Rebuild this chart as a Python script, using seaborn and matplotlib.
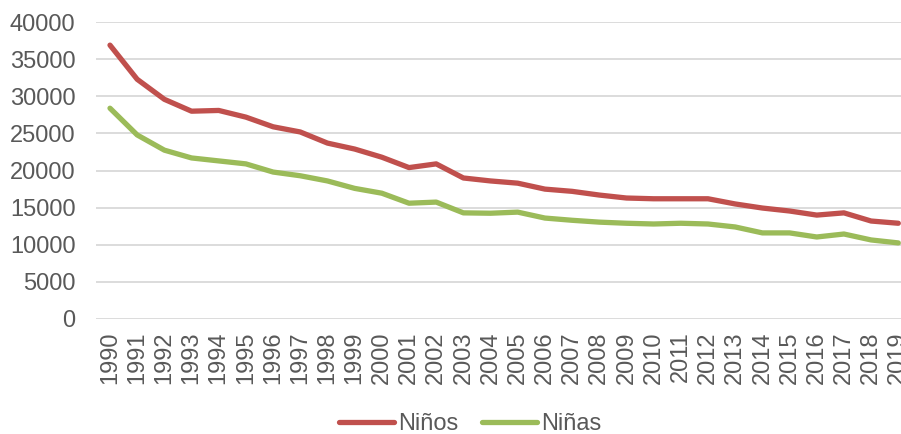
import matplotlib
matplotlib.use("Agg")
import matplotlib.pyplot as plt
import pandas as pd
import seaborn as sns

years = list(range(1990, 2020))
ninos = [36900, 32300, 29600, 28000, 28100, 27200, 25900, 25200, 23700, 22900,
         21800, 20400, 20900, 19000, 18600, 18300, 17500, 17200, 16700, 16300,
         16200, 16200, 16200, 15500, 14950, 14550, 14000, 14300, 13200, 12900]
ninas = [28400, 24800, 22750, 21700, 21300, 20900, 19800, 19300, 18600, 17600,
         16950, 15600, 15750, 14300, 14250, 14400, 13600, 13300, 13050, 12900,
         12800, 12900, 12800, 12400, 11600, 11600, 11050, 11450, 10650, 10250]
series_names = ["Niños", "Niñas"]
colors = ["#C0504D", "#9BBB59"]

df = pd.DataFrame({
    "year": years * 2,
    "value": ninos + ninas,
    "serie": [series_names[0]] * len(years) + [series_names[1]] * len(years),
})

sns.set_theme(style="white")
plt.rcParams["font.family"] = ["Liberation Sans", "DejaVu Sans"]
text_color = "#595959"

fig = plt.figure(figsize=(9.01, 4.34), dpi=100)
ax = fig.add_axes([96.4 / 901, 0.265, 815.5 / 901, 0.684])

sns.lineplot(data=df, x="year", y="value", hue="serie", hue_order=series_names,
             palette=colors, linewidth=3.8, ax=ax, legend=True)
for line in ax.lines:
    line.set_solid_capstyle("round")
    line.set_solid_joinstyle("round")

ax.set_xlim(1989.5, 2019.5)
ax.set_ylim(0, 40000)
ax.set_yticks(range(0, 40001, 5000))
ax.set_xticks(years)
ax.set_xticklabels([str(y) for y in years], rotation=90)
ax.tick_params(axis="both", labelsize=17, colors=text_color, length=0)
ax.tick_params(axis="y", pad=15)
ax.tick_params(axis="x", pad=9)
ax.set_xlabel("")
ax.set_ylabel("")
ax.grid(axis="y", color="#D9D9D9", linewidth=1.3)
ax.set_axisbelow(True)
for s in ax.spines.values():
    s.set_visible(False)

leg = ax.legend(loc="center", bbox_to_anchor=(470 / 901, 10 / 434),
                bbox_transform=fig.transFigure, ncol=2, frameon=False,
                fontsize=17, handlelength=2.35, handletextpad=0.15,
                columnspacing=1.0)
for t in leg.get_texts():
    t.set_color(text_color)
for h in leg.get_lines():
    h.set_linewidth(3.8)

fig.savefig("out.png", dpi=100)
